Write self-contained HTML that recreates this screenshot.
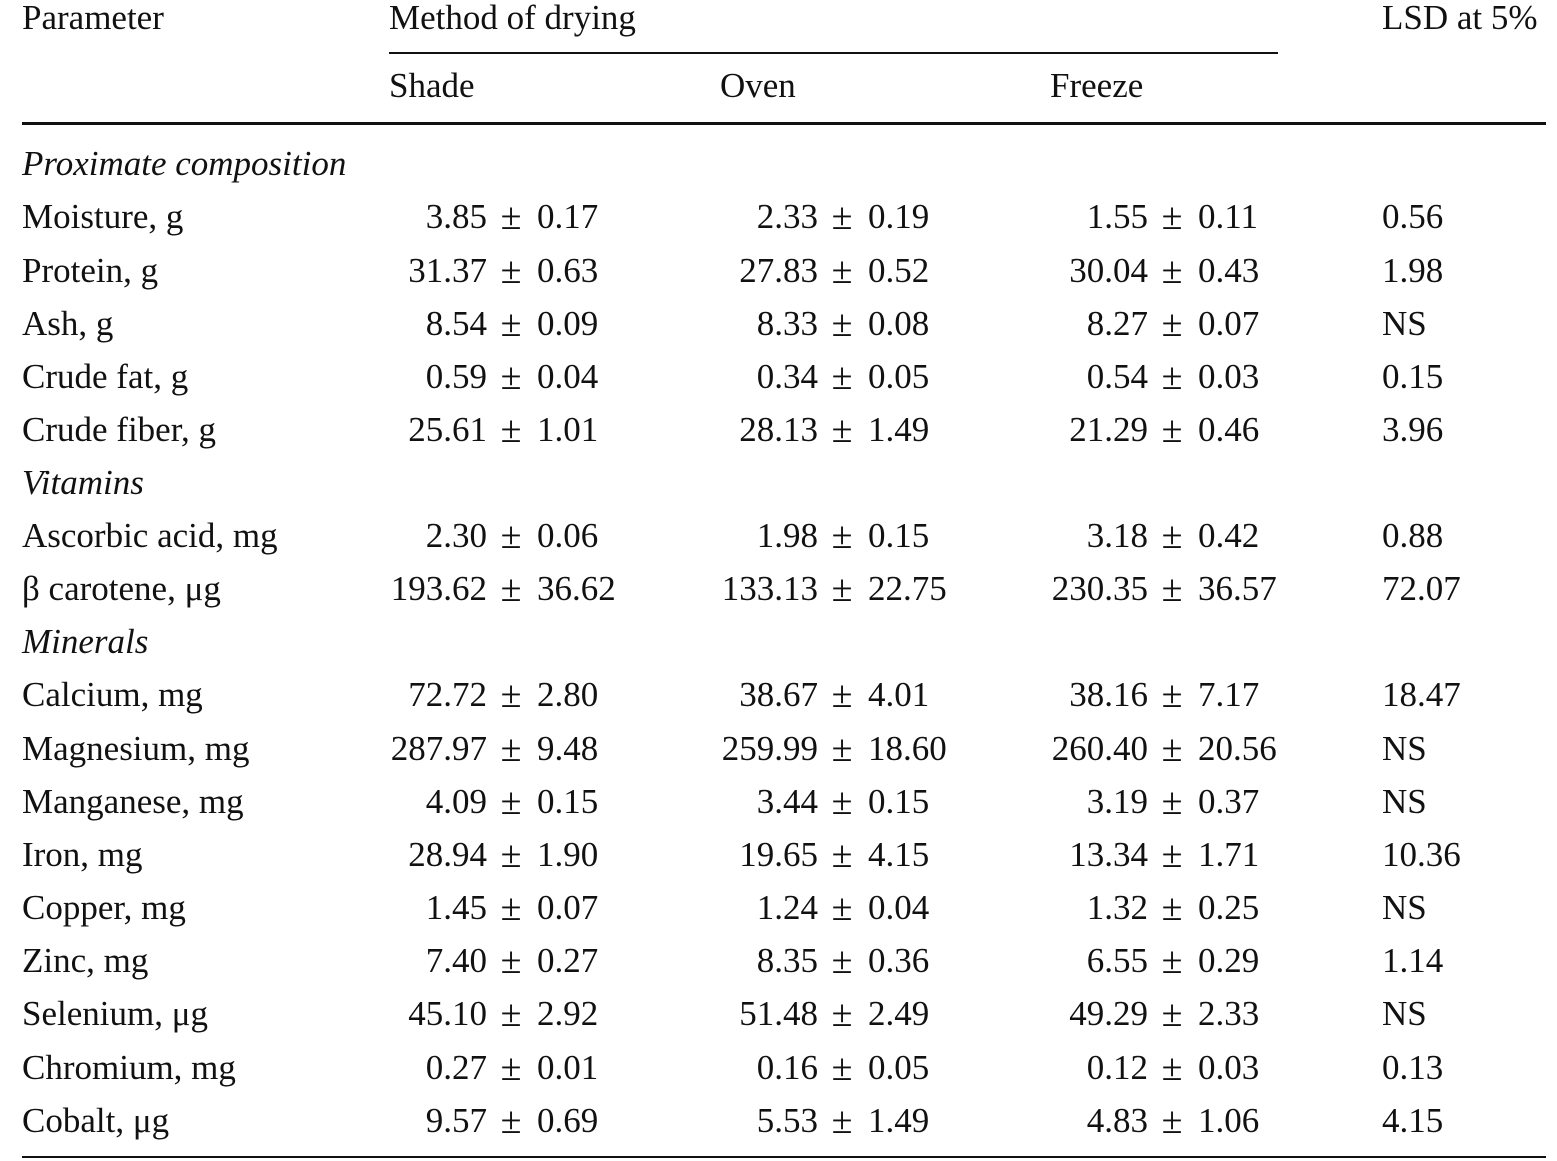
<!DOCTYPE html>
<html><head><meta charset="utf-8"><style>
body{margin:0;width:1557px;height:1161px;background:#fff;position:relative;overflow:hidden;font-family:"Liberation Serif",serif;font-size:35px;color:#111}
.t{position:absolute;line-height:40px;white-space:nowrap}
.r{position:absolute;line-height:40px;white-space:nowrap;text-align:right;width:200px}
.p{position:absolute;line-height:40px;width:28px;text-align:center;font-size:38px}
.l{position:absolute;background:#111}
i{font-style:italic}
</style></head><body>
<div class="l" style="left:389px;top:52px;width:889px;height:2px"></div>
<div class="l" style="left:22px;top:122px;width:1524px;height:3px"></div>
<div class="l" style="left:22px;top:1156px;width:1524px;height:2px"></div>

<div class="t" style="left:22px;top:-2px">Parameter</div>
<div class="t" style="left:389px;top:-2px">Method of drying</div>
<div class="t" style="left:1382px;top:-2px">LSD at 5%</div>
<div class="t" style="left:389px;top:66px">Shade</div>
<div class="t" style="left:720px;top:66px">Oven</div>
<div class="t" style="left:1050px;top:66px">Freeze</div>

<div class="t" style="left:22px;top:144px"><i>Proximate composition</i></div>
<div class="t" style="left:22px;top:463px"><i>Vitamins</i></div>
<div class="t" style="left:22px;top:622px"><i>Minerals</i></div>

<div class="t" style="left:22px;top:197px">Moisture, g</div>
<div class="r" style="left:287px;top:197px">3.85</div><div class="p" style="left:497px;top:197px">±</div><div class="t" style="left:537px;top:197px">0.17</div>
<div class="r" style="left:618px;top:197px">2.33</div><div class="p" style="left:828px;top:197px">±</div><div class="t" style="left:868px;top:197px">0.19</div>
<div class="r" style="left:948px;top:197px">1.55</div><div class="p" style="left:1158px;top:197px">±</div><div class="t" style="left:1198px;top:197px">0.11</div>
<div class="t" style="left:1382px;top:197px">0.56</div>

<div class="t" style="left:22px;top:251px">Protein, g</div>
<div class="r" style="left:287px;top:251px">31.37</div><div class="p" style="left:497px;top:251px">±</div><div class="t" style="left:537px;top:251px">0.63</div>
<div class="r" style="left:618px;top:251px">27.83</div><div class="p" style="left:828px;top:251px">±</div><div class="t" style="left:868px;top:251px">0.52</div>
<div class="r" style="left:948px;top:251px">30.04</div><div class="p" style="left:1158px;top:251px">±</div><div class="t" style="left:1198px;top:251px">0.43</div>
<div class="t" style="left:1382px;top:251px">1.98</div>

<div class="t" style="left:22px;top:304px">Ash, g</div>
<div class="r" style="left:287px;top:304px">8.54</div><div class="p" style="left:497px;top:304px">±</div><div class="t" style="left:537px;top:304px">0.09</div>
<div class="r" style="left:618px;top:304px">8.33</div><div class="p" style="left:828px;top:304px">±</div><div class="t" style="left:868px;top:304px">0.08</div>
<div class="r" style="left:948px;top:304px">8.27</div><div class="p" style="left:1158px;top:304px">±</div><div class="t" style="left:1198px;top:304px">0.07</div>
<div class="t" style="left:1382px;top:304px">NS</div>

<div class="t" style="left:22px;top:357px">Crude fat, g</div>
<div class="r" style="left:287px;top:357px">0.59</div><div class="p" style="left:497px;top:357px">±</div><div class="t" style="left:537px;top:357px">0.04</div>
<div class="r" style="left:618px;top:357px">0.34</div><div class="p" style="left:828px;top:357px">±</div><div class="t" style="left:868px;top:357px">0.05</div>
<div class="r" style="left:948px;top:357px">0.54</div><div class="p" style="left:1158px;top:357px">±</div><div class="t" style="left:1198px;top:357px">0.03</div>
<div class="t" style="left:1382px;top:357px">0.15</div>

<div class="t" style="left:22px;top:410px">Crude fiber, g</div>
<div class="r" style="left:287px;top:410px">25.61</div><div class="p" style="left:497px;top:410px">±</div><div class="t" style="left:537px;top:410px">1.01</div>
<div class="r" style="left:618px;top:410px">28.13</div><div class="p" style="left:828px;top:410px">±</div><div class="t" style="left:868px;top:410px">1.49</div>
<div class="r" style="left:948px;top:410px">21.29</div><div class="p" style="left:1158px;top:410px">±</div><div class="t" style="left:1198px;top:410px">0.46</div>
<div class="t" style="left:1382px;top:410px">3.96</div>

<div class="t" style="left:22px;top:516px">Ascorbic acid, mg</div>
<div class="r" style="left:287px;top:516px">2.30</div><div class="p" style="left:497px;top:516px">±</div><div class="t" style="left:537px;top:516px">0.06</div>
<div class="r" style="left:618px;top:516px">1.98</div><div class="p" style="left:828px;top:516px">±</div><div class="t" style="left:868px;top:516px">0.15</div>
<div class="r" style="left:948px;top:516px">3.18</div><div class="p" style="left:1158px;top:516px">±</div><div class="t" style="left:1198px;top:516px">0.42</div>
<div class="t" style="left:1382px;top:516px">0.88</div>

<div class="t" style="left:22px;top:569px">β carotene, μg</div>
<div class="r" style="left:287px;top:569px">193.62</div><div class="p" style="left:497px;top:569px">±</div><div class="t" style="left:537px;top:569px">36.62</div>
<div class="r" style="left:618px;top:569px">133.13</div><div class="p" style="left:828px;top:569px">±</div><div class="t" style="left:868px;top:569px">22.75</div>
<div class="r" style="left:948px;top:569px">230.35</div><div class="p" style="left:1158px;top:569px">±</div><div class="t" style="left:1198px;top:569px">36.57</div>
<div class="t" style="left:1382px;top:569px">72.07</div>

<div class="t" style="left:22px;top:675px">Calcium, mg</div>
<div class="r" style="left:287px;top:675px">72.72</div><div class="p" style="left:497px;top:675px">±</div><div class="t" style="left:537px;top:675px">2.80</div>
<div class="r" style="left:618px;top:675px">38.67</div><div class="p" style="left:828px;top:675px">±</div><div class="t" style="left:868px;top:675px">4.01</div>
<div class="r" style="left:948px;top:675px">38.16</div><div class="p" style="left:1158px;top:675px">±</div><div class="t" style="left:1198px;top:675px">7.17</div>
<div class="t" style="left:1382px;top:675px">18.47</div>

<div class="t" style="left:22px;top:729px">Magnesium, mg</div>
<div class="r" style="left:287px;top:729px">287.97</div><div class="p" style="left:497px;top:729px">±</div><div class="t" style="left:537px;top:729px">9.48</div>
<div class="r" style="left:618px;top:729px">259.99</div><div class="p" style="left:828px;top:729px">±</div><div class="t" style="left:868px;top:729px">18.60</div>
<div class="r" style="left:948px;top:729px">260.40</div><div class="p" style="left:1158px;top:729px">±</div><div class="t" style="left:1198px;top:729px">20.56</div>
<div class="t" style="left:1382px;top:729px">NS</div>

<div class="t" style="left:22px;top:782px">Manganese, mg</div>
<div class="r" style="left:287px;top:782px">4.09</div><div class="p" style="left:497px;top:782px">±</div><div class="t" style="left:537px;top:782px">0.15</div>
<div class="r" style="left:618px;top:782px">3.44</div><div class="p" style="left:828px;top:782px">±</div><div class="t" style="left:868px;top:782px">0.15</div>
<div class="r" style="left:948px;top:782px">3.19</div><div class="p" style="left:1158px;top:782px">±</div><div class="t" style="left:1198px;top:782px">0.37</div>
<div class="t" style="left:1382px;top:782px">NS</div>

<div class="t" style="left:22px;top:835px">Iron, mg</div>
<div class="r" style="left:287px;top:835px">28.94</div><div class="p" style="left:497px;top:835px">±</div><div class="t" style="left:537px;top:835px">1.90</div>
<div class="r" style="left:618px;top:835px">19.65</div><div class="p" style="left:828px;top:835px">±</div><div class="t" style="left:868px;top:835px">4.15</div>
<div class="r" style="left:948px;top:835px">13.34</div><div class="p" style="left:1158px;top:835px">±</div><div class="t" style="left:1198px;top:835px">1.71</div>
<div class="t" style="left:1382px;top:835px">10.36</div>

<div class="t" style="left:22px;top:888px">Copper, mg</div>
<div class="r" style="left:287px;top:888px">1.45</div><div class="p" style="left:497px;top:888px">±</div><div class="t" style="left:537px;top:888px">0.07</div>
<div class="r" style="left:618px;top:888px">1.24</div><div class="p" style="left:828px;top:888px">±</div><div class="t" style="left:868px;top:888px">0.04</div>
<div class="r" style="left:948px;top:888px">1.32</div><div class="p" style="left:1158px;top:888px">±</div><div class="t" style="left:1198px;top:888px">0.25</div>
<div class="t" style="left:1382px;top:888px">NS</div>

<div class="t" style="left:22px;top:941px">Zinc, mg</div>
<div class="r" style="left:287px;top:941px">7.40</div><div class="p" style="left:497px;top:941px">±</div><div class="t" style="left:537px;top:941px">0.27</div>
<div class="r" style="left:618px;top:941px">8.35</div><div class="p" style="left:828px;top:941px">±</div><div class="t" style="left:868px;top:941px">0.36</div>
<div class="r" style="left:948px;top:941px">6.55</div><div class="p" style="left:1158px;top:941px">±</div><div class="t" style="left:1198px;top:941px">0.29</div>
<div class="t" style="left:1382px;top:941px">1.14</div>

<div class="t" style="left:22px;top:994px">Selenium, μg</div>
<div class="r" style="left:287px;top:994px">45.10</div><div class="p" style="left:497px;top:994px">±</div><div class="t" style="left:537px;top:994px">2.92</div>
<div class="r" style="left:618px;top:994px">51.48</div><div class="p" style="left:828px;top:994px">±</div><div class="t" style="left:868px;top:994px">2.49</div>
<div class="r" style="left:948px;top:994px">49.29</div><div class="p" style="left:1158px;top:994px">±</div><div class="t" style="left:1198px;top:994px">2.33</div>
<div class="t" style="left:1382px;top:994px">NS</div>

<div class="t" style="left:22px;top:1048px">Chromium, mg</div>
<div class="r" style="left:287px;top:1048px">0.27</div><div class="p" style="left:497px;top:1048px">±</div><div class="t" style="left:537px;top:1048px">0.01</div>
<div class="r" style="left:618px;top:1048px">0.16</div><div class="p" style="left:828px;top:1048px">±</div><div class="t" style="left:868px;top:1048px">0.05</div>
<div class="r" style="left:948px;top:1048px">0.12</div><div class="p" style="left:1158px;top:1048px">±</div><div class="t" style="left:1198px;top:1048px">0.03</div>
<div class="t" style="left:1382px;top:1048px">0.13</div>

<div class="t" style="left:22px;top:1101px">Cobalt, μg</div>
<div class="r" style="left:287px;top:1101px">9.57</div><div class="p" style="left:497px;top:1101px">±</div><div class="t" style="left:537px;top:1101px">0.69</div>
<div class="r" style="left:618px;top:1101px">5.53</div><div class="p" style="left:828px;top:1101px">±</div><div class="t" style="left:868px;top:1101px">1.49</div>
<div class="r" style="left:948px;top:1101px">4.83</div><div class="p" style="left:1158px;top:1101px">±</div><div class="t" style="left:1198px;top:1101px">1.06</div>
<div class="t" style="left:1382px;top:1101px">4.15</div>
</body></html>
